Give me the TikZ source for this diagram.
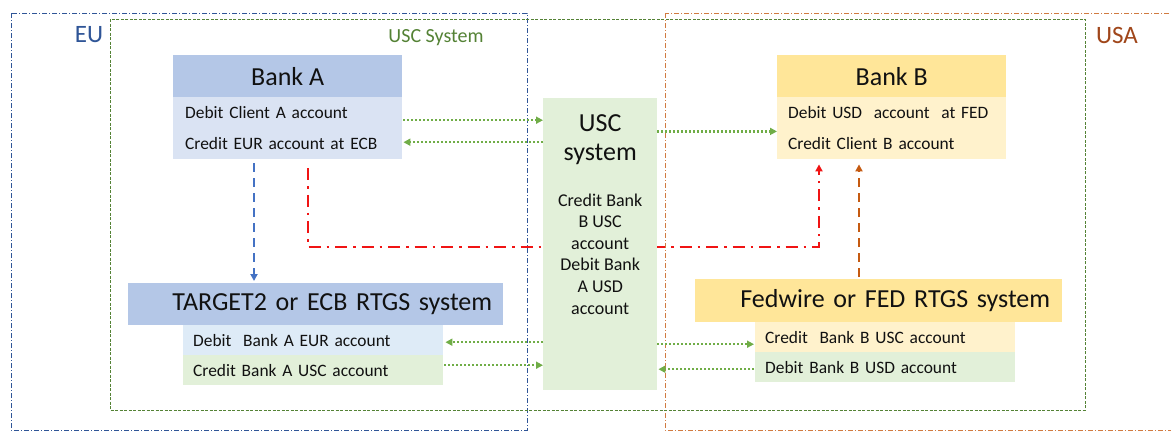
\documentclass[tikz,border=0pt]{standalone}
\usepackage{fontspec}
\setmainfont{Carlito}
\usetikzlibrary{arrows.meta,calc,backgrounds}
\definecolor{txt}{HTML}{111111}
\definecolor{bluehdr}{HTML}{B4C7E7}
\definecolor{bluebody}{HTML}{DAE3F3}
\definecolor{bluerow}{HTML}{DEEBF7}
\definecolor{greenl}{HTML}{E2F0D9}
\definecolor{goldhdr}{HTML}{FFE699}
\definecolor{goldbody}{HTML}{FFF2CC}
\definecolor{eublue}{HTML}{2F5597}
\definecolor{uscgreen}{HTML}{548235}
\definecolor{usabrown}{HTML}{A0461A}
\definecolor{arrowgreen}{HTML}{70AD47}
\definecolor{arrowblue}{HTML}{4472C4}
\definecolor{arrowred}{HTML}{F01414}
\definecolor{arrowbrown}{HTML}{C55A11}
\begin{document}
\begin{tikzpicture}[x=1pt,y=-1pt,
  hdr/.style={anchor=north west, inner sep=0pt, text=txt, font=\fontsize{26}{30}\selectfont},
  rowbox/.style={anchor=north west, inner ysep=0pt, align=left, text=txt, font=\fontsize{17.4}{21}\selectfont},
  regionlbl/.style={inner sep=0pt},
  eubox/.style={draw=eublue, line width=0.7pt, dash pattern=on 5pt off 2pt on 1pt off 2pt},
  uscbox/.style={draw=uscgreen, line width=0.7pt, dash pattern=on 3pt off 1.5pt},
  usabox/.style={draw=arrowbrown!80, line width=0.7pt, dash pattern=on 5pt off 2pt on 1pt off 2pt},
  garrow/.style={draw=arrowgreen, line width=2.2pt, dash pattern=on 2pt off 2pt, -{Triangle[length=7pt,width=7pt]}},
  bdash/.style={draw=arrowblue, line width=2.2pt, dash pattern=on 9pt off 6pt, -{Triangle[length=7pt,width=7pt]}},
  rdash/.style={draw=arrowred, line width=2.4pt, dash pattern=on 12pt off 6pt on 2.5pt off 6pt, -{Triangle[length=7pt,width=7pt]}},
  brdash/.style={draw=arrowbrown, line width=2.2pt, dash pattern=on 9pt off 6pt, -{Triangle[length=7pt,width=7pt]}}
]
\useasboundingbox (0,0) rectangle (1171,432);
\begin{scope}[on background layer]
\fill[white] (0,0) rectangle (1171,432);
\end{scope}

% regions
\draw[eubox] (11,13) rectangle (527,430);
\draw[usabox] (665,13) rectangle (1185,430);
\draw[uscbox] (110,19) rectangle (1085,410);
\node[regionlbl, text=eublue, font=\fontsize{25}{30}\selectfont] (eulbl) at (89,35) {EU};
\node[regionlbl, text=uscgreen, font=\fontsize{20}{24}\selectfont] (usclbl) at (436,38) {USC System};
\node[regionlbl, text=usabrown, font=\fontsize{25}{30}\selectfont] (usalbl) at (1117,35) {USA};

% Bank A
\node[hdr, fill=bluehdr, minimum width=229pt, minimum height=42pt] (bankAh) at (173,55) {Bank A};
\node[rowbox, fill=bluebody, text width=205pt, inner xsep=12pt, minimum height=31pt] (bankA1) at (173,97) {\mbox{Debit Client A account}};
\node[rowbox, fill=bluebody, text width=205pt, inner xsep=12pt, minimum height=31pt] (bankA2) at (173,128) {\mbox{Credit EUR account at ECB}};

% Bank B
\node[hdr, fill=goldhdr, minimum width=229pt, minimum height=42pt] (bankBh) at (777,55) {Bank B};
\node[rowbox, fill=goldbody, text width=207pt, inner xsep=11pt, minimum height=31pt] (bankB1) at (777,97) {\mbox{Debit USD~ account~ at FED}};
\node[rowbox, fill=goldbody, text width=207pt, inner xsep=11pt, minimum height=31pt] (bankB2) at (777,128) {\mbox{Credit Client B account}};

% TARGET2
\node[hdr, fill=bluehdr, minimum height=42pt, text width=353pt, inner xsep=11pt, align=right] (targetH) at (128,283) {TARGET2 or ECB RTGS system};
\node[rowbox, fill=bluerow, text width=240pt, inner xsep=10pt, minimum height=30pt] (t1) at (183,325) {\mbox{Debit~ Bank A EUR account}};
\node[rowbox, fill=greenl, text width=240pt, inner xsep=10pt, minimum height=30pt] (t2) at (183,355) {\mbox{Credit Bank A USC account}};

% Fedwire
\node[hdr, fill=goldhdr, minimum height=43pt, text width=343pt, inner xsep=12pt, align=right] (fedH) at (695,279) {Fedwire or FED RTGS system};
\node[rowbox, fill=goldbody, text width=240pt, inner xsep=10pt, minimum height=30pt] (f1) at (755,322) {\mbox{Credit~ Bank B USC account}};
\node[rowbox, fill=greenl, text width=240pt, inner xsep=10pt, minimum height=30pt] (f2) at (755,352) {\mbox{Debit Bank B USD account}};

% USC system
\node[anchor=north west, fill=greenl, inner sep=0pt, text=txt] (usc) at (543,98) {\parbox[c][292pt][t]{114pt}{\centering
  \vspace*{16pt}\fontsize{26}{29.5}\selectfont USC\\system\par
  \vspace{24pt}\fontsize{18}{21.6}\selectfont Credit Bank\\B USC\\account\\Debit Bank\\A USD\\account\par}};

% green dotted arrows
\draw[garrow] ($(bankA1.east)+(1,7.5)$) -- ($(usc.west |- bankA1.east)+(0,7.5)$);
\draw[garrow] ($(usc.west |- bankA2.east)+(0,-1.5)$) -- ($(bankA2.east)+(1,-1.5)$);
\draw[garrow] ($(usc.east |- bankB1.south)+(0,3)$) -- ($(bankB1.south west)+(0,3)$);
\draw[garrow] ($(usc.west |- t1.east)+(0,2)$) -- ($(t1.east)+(2,2)$);
\draw[garrow] ($(t2.east)+(1,-5)$) -- ($(usc.west |- t2.east)+(0,-5)$);
\draw[garrow] ($(usc.east |- f1.west)+(0,7)$) -- ($(f1.west)+(-1,7)$);
\draw[garrow] ($(f2.west)+(-1,2)$) -- ($(usc.east |- f2.west)+(1,2)$);

% vertical connectors
\coordinate (ba) at ($(bankA2.south west)+(81,4)$);
\draw[bdash] (ba) -- ($(ba |- targetH.north)+(0,-2)$);
\coordinate (ra) at ($(bankA2.south west)+(135,9)$);
\coordinate (rb) at ($(bankB2.south west)+(42,5)$);
\begin{scope}[on background layer]
\draw[rdash] (ra) |- ($(usc.center)+(0,3)$) -| (rb);
\end{scope}
\coordinate (bb) at ($(bankB2.south west)+(82,5)$);
\draw[brdash] ($(bb |- fedH.north)+(0,-2)$) -- (bb);
\end{tikzpicture}
\end{document}
